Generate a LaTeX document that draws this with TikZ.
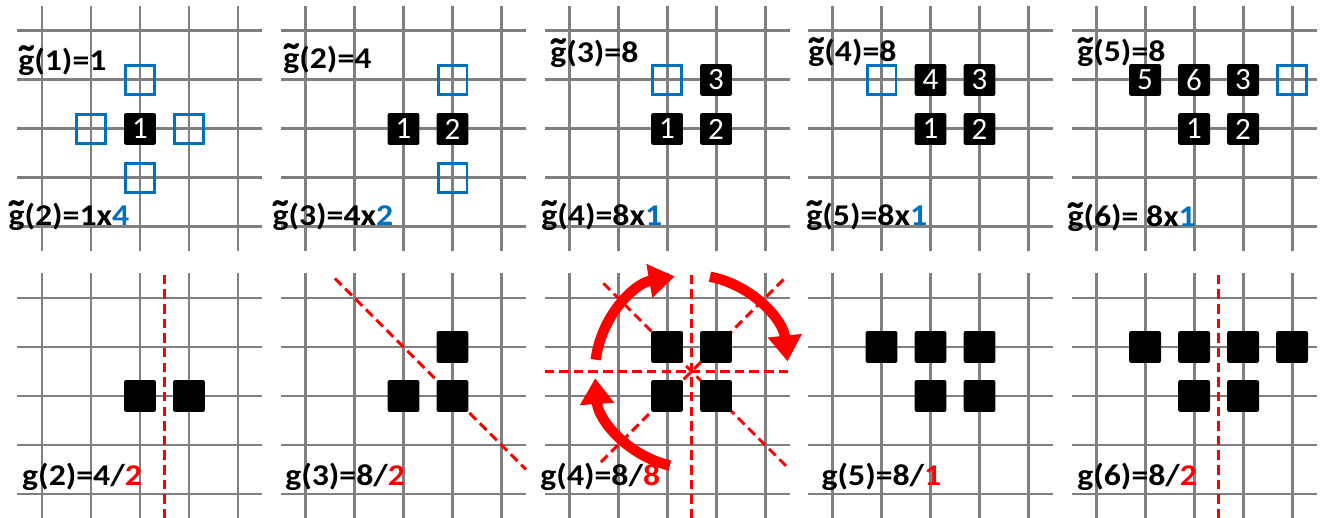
\documentclass[tikz,border=0pt]{standalone}
\usepackage{fontspec}
\usepackage{graphicx}
\setmainfont{Carlito}
\newfontfamily\lblfont{Carlito}[FakeStretch=1.12]
\usetikzlibrary{positioning,arrows.meta}

\definecolor{gridgray}{RGB}{128,128,128}
\definecolor{cellblue}{RGB}{0,112,192}
\definecolor{symred}{RGB}{255,0,0}

% g with a tilde on top
\newcommand{\gtil}{\ooalign{g\cr\hidewidth\raisebox{-0.29em}{\scalebox{1.5}[1.6]{\symbol{"2DC}}}\hidewidth\cr}}

\tikzset{
  gridline/.style={gridgray, line width=1.7pt},
  cell/.style={fill=black, rounded corners=1.2pt, minimum size=0.65cm, inner sep=0pt,
    text=white, font=\fontsize{18}{20}\selectfont},
  freecell/.style={draw=cellblue, line width=1.7pt, minimum size=0.59cm, inner sep=0pt},
  symline/.style={symred, line width=1.7pt, dash pattern=on 5.5pt off 3pt},
  rotarrow/.style={symred, line width=6pt, -{Triangle[length=15pt,width=19pt]}},
  lbl/.style={anchor=base west, inner sep=0pt, font=\lblfont\bfseries\fontsize{17.5}{20}\selectfont}
}

\begin{document}
\begin{tikzpicture}
\useasboundingbox (0,0) rectangle (26.939,10.571);

% Grids of all ten panels
\foreach \p in {0,...,4} {
  \foreach \r in {0.49,5.939} {
    \foreach \k in {0,...,4} {
      \draw[gridline] ({0.857+5.378*\p+\k},{\r-0.5}) -- ++(0,5);
      \draw[gridline] ({0.857+5.378*\p-0.5},{\r+\k}) -- ++(5,0);
    }
  }
}

% Top row: growing the cluster
\begin{scope}[shift={(0.857,5.939)}]
  \node[cell] (a1) at (2,2) {1};
  \foreach \x/\y/\n in {2/3/n,1/2/w,3/2/e,2/1/s}
    \node[freecell] (a\n) at (\x,\y) {};
  \node[lbl] (atop) at (-0.49,3.2) {\gtil(1)=1};
  \node[lbl] (abot) at (-0.69,0.04) {\gtil(2)=1x\textcolor{cellblue}{4}};
\end{scope}

\begin{scope}[shift={(6.235,5.939)}]
  \node[cell] (b1) at (2,2) {1};
  \node[cell] (b2) at (3,2) {2};
  \node[freecell] (bn) at (3,3) {};
  \node[freecell] (bs) at (3,1) {};
  \node[lbl] (btop) at (-0.46,3.24) {\gtil(2)=4};
  \node[lbl] (bbot) at (-0.68,0.04) {\gtil(3)=4x\textcolor{cellblue}{2}};
\end{scope}

\begin{scope}[shift={(11.613,5.939)}]
  \foreach \x/\y/\n in {2/2/1,3/2/2,3/3/3}
    \node[cell] (c\n) at (\x,\y) {\n};
  \node[freecell] (cn) at (2,3) {};
  \node[lbl] (ctop) at (-0.39,3.35) {\gtil(3)=8};
  \node[lbl] (cbot) at (-0.57,0.04) {\gtil(4)=8x\textcolor{cellblue}{1}};
\end{scope}

\begin{scope}[shift={(16.991,5.939)}]
  \foreach \x/\y/\n in {2/2/1,3/2/2,3/3/3,2/3/4}
    \node[cell] (d\n) at (\x,\y) {\n};
  \node[freecell] (dn) at (1,3) {};
  \node[lbl] (dtop) at (-0.5,3.37) {\gtil(4)=8};
  \node[lbl] (dbot) at (-0.54,0.04) {\gtil(5)=8x\textcolor{cellblue}{1}};
\end{scope}

\begin{scope}[shift={(22.369,5.939)}]
  \foreach \x/\y/\n in {2/2/1,3/2/2,3/3/3,1/3/5,2/3/6}
    \node[cell] (e\n) at (\x,\y) {\n};
  \node[freecell] (en) at (4,3) {};
  \node[lbl] (etop) at (-0.39,3.37) {\gtil(5)=8};
  \node[lbl] (ebot) at (-0.59,0.0) {\gtil(6)= 8x\textcolor{cellblue}{1}};
\end{scope}

% Bottom row: symmetries of each shape
\begin{scope}[shift={(0.857,0.49)}]
  \draw[symline] (2.5,-0.5) -- (2.5,4.5);
  \foreach \x/\y/\n in {2/2/1,3/2/2}
    \node[cell] (f\n) at (\x,\y) {};
  \node[lbl] (fbot) at (-0.41,0.18) {g(2)=4/\textcolor{symred}{2}};
\end{scope}

\begin{scope}[shift={(6.235,0.49)}]
  \draw[symline] (0.6,4.4) -- (4.5,0.5);
  \foreach \x/\y/\n in {2/2/1,3/2/2,3/3/3}
    \node[cell] (g\n) at (\x,\y) {};
  \node[lbl] (gbot) at (-0.42,0.18) {g(3)=8/\textcolor{symred}{2}};
\end{scope}

\begin{scope}[shift={(11.613,0.49)}]
  \coordinate (hc) at (2.5,2.5);
  \draw[symline] (2.5,-0.5) -- (2.5,4.5);
  \draw[symline] (-0.5,2.5) -- (4.5,2.5);
  \draw[symline] (0.65,0.65) -- (4.4,4.4);
  \draw[symline] (0.7,4.3) -- (4.47,0.53);
  \foreach \x/\y/\n in {2/2/1,3/2/2,3/3/3,2/3/4}
    \node[cell] (h\n) at (\x,\y) {};
  \draw[rotarrow] ([shift={(173:1.97)}]hc) arc[start angle=173, end angle=100, radius=1.97];
  \draw[rotarrow] ([shift={(79:1.97)}]hc) arc[start angle=79, end angle=6, radius=1.97];
  \draw[rotarrow] ([shift={(257:1.97)}]hc) arc[start angle=257, end angle=184, radius=1.97];
  \node[lbl] (hbot) at (-0.59,0.18) {g(4)=8/\textcolor{symred}{8}};
\end{scope}

\begin{scope}[shift={(16.991,0.49)}]
  \foreach \x/\y/\n in {2/2/1,3/2/2,3/3/3,2/3/4,1/3/5}
    \node[cell] (i\n) at (\x,\y) {};
  \node[lbl] (ibot) at (-0.23,0.18) {g(5)=8/\textcolor{symred}{1}};
\end{scope}

\begin{scope}[shift={(22.369,0.49)}]
  \draw[symline] (2.5,-0.5) -- (2.5,4.5);
  \foreach \x/\y/\n in {2/2/1,3/2/2,3/3/3,2/3/4,1/3/5,4/3/6}
    \node[cell] (j\n) at (\x,\y) {};
  \node[lbl] (jbot) at (-0.39,0.18) {g(6)=8/\textcolor{symred}{2}};
\end{scope}

\end{tikzpicture}
\end{document}
